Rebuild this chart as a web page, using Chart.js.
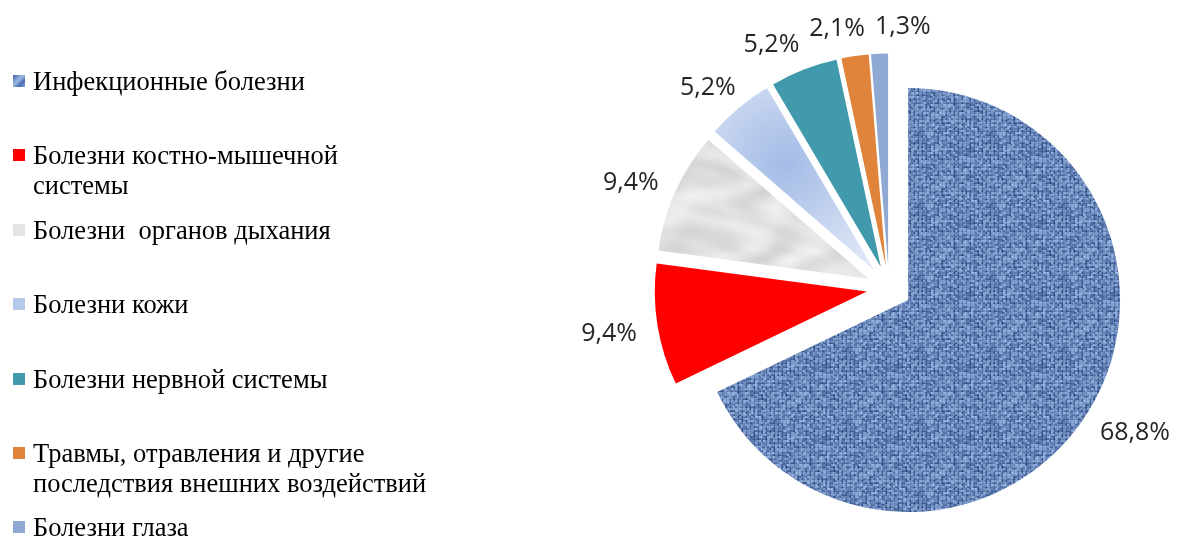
<!DOCTYPE html>
<html lang="ru">
<head>
<meta charset="utf-8">
<title>Структура заболеваемости</title>
<script src="https://cdn.jsdelivr.net/npm/chart.js@4.4.1/dist/chart.umd.min.js"></script>
<style>
    html, body { margin: 0; padding: 0; background: #fff; }
    #wrap { position: relative; width: 1183px; height: 538px; overflow: hidden; }
    #pie { position: absolute; left: 0; top: 0; }
    #legend {
        position: absolute; left: 0; top: 0; width: 560px; height: 538px;
        font-family: 'Times New Roman', 'Liberation Serif', serif;
        font-size: 26.5px; color: #000;
    }
    .item { position: absolute; left: 13px; line-height: 30px; white-space: pre; }
    .box { position: absolute; left: 0; top: 9px; width: 12px; height: 12px; }
    .text { margin-left: 20px; }
</style>
</head>
<body>
<div id="wrap">
    <canvas id="pie"></canvas>
    <div id="legend"></div>
</div>
<script>
'use strict';

var categories = [
    'Инфекционные болезни',
    ['Болезни костно-мышечной', 'системы'],
    'Болезни  органов дыхания',
    'Болезни кожи',
    'Болезни нервной системы',
    ['Травмы, отравления и другие', 'последствия внешних воздействий'],
    'Болезни глаза',
];

var shares = [68.8, 9.4, 9.4, 5.2, 5.2, 2.1, 1.3];

var sliceColors = ['#5b7fba', '#ff0000', '#d9d9d9', '#bccbea', '#4199ac', '#e0843b', '#8fa9d3'];
var swatchColors = [
    'linear-gradient(135deg, #3f63a3, #9bb8e6 45%, #4a6eaf 70%, #86a6dc)',
    '#ff0000', '#e4e4e4', '#b6c8ea', '#4199ac', '#e0843b', '#8fa9d3',
];

var RADIUS = 212;
var EXPLODE = 22.5;
var LABEL_GAP = 21;
var LABEL_HALF_H = 10;
var LABEL_DROP = 4;
var LABEL_MIN_GAP = 10;
var LABEL_FONT = '25px "Open Sans", "Liberation Sans", sans-serif';

var canvas = document.getElementById('pie');
var ctx2d = canvas.getContext('2d');

function hash(x, y) {
    var h = Math.sin(x * 127.1 + y * 311.7) * 43758.5453;
    return h - Math.floor(h);
}

// woven blue cloth used for the biggest slice
function makeDenim() {
    var size = 72;
    var c = document.createElement('canvas');
    c.width = c.height = size;
    var g = c.getContext('2d');
    var img = g.createImageData(size, size);
    var dark = [34, 64, 122];
    var light = [178, 206, 248];
    for (var y = 0; y < size; y++) {
        for (var x = 0; x < size; x++) {
            var cx = Math.floor(x / 2);
            var cy = Math.floor(y / 2);
            var t = 0.3 + 0.55 * hash(cx, cy) + 0.15 * (hash(x + 31, y + 7) - 0.5);
            if (x % 4 === 3) t -= 0.18;
            if (y % 4 === 3) t -= 0.12;
            t = Math.max(0, Math.min(1, t));
            var k = (y * size + x) * 4;
            img.data[k] = dark[0] + (light[0] - dark[0]) * t;
            img.data[k + 1] = dark[1] + (light[1] - dark[1]) * t;
            img.data[k + 2] = dark[2] + (light[2] - dark[2]) * t;
            img.data[k + 3] = 255;
        }
    }
    g.putImageData(img, 0, 0);
    return ctx2d.createPattern(c, 'repeat');
}

// soft grey marble for the respiratory slice
function makeMarble() {
    var size = 200;
    var c = document.createElement('canvas');
    c.width = c.height = size;
    var g = c.getContext('2d');
    var img = g.createImageData(size, size);
    var a = 2 * Math.PI / size;
    for (var y = 0; y < size; y++) {
        for (var x = 0; x < size; x++) {
            var v = Math.sin(x * a * 2 + Math.sin(y * a * 3) * 2.6 + Math.sin(x * a) * 1.5) +
                0.6 * Math.sin(y * a * 3 + Math.sin(x * a * 2) * 2.1) +
                0.3 * Math.sin((x - 2 * y) * a * 4 + Math.sin(y * a * 5)) +
                (hash(x, y) - 0.5) * 0.25;
            var gray = Math.max(185, Math.min(247, 226 + v * 8));
            var k = (y * size + x) * 4;
            img.data[k] = gray;
            img.data[k + 1] = gray;
            img.data[k + 2] = gray + 1;
            img.data[k + 3] = 255;
        }
    }
    g.putImageData(img, 0, 0);
    return ctx2d.createPattern(c, 'repeat');
}

var denim = makeDenim();
var marble = makeMarble();

function midAngle(index) {
    var total = shares.reduce(function (a, b) { return a + b; }, 0);
    var before = shares.slice(0, index).reduce(function (a, b) { return a + b; }, 0);
    return -Math.PI / 2 + 2 * Math.PI * (before + shares[index] / 2) / total;
}

function sliceFill(context) {
    var i = context.dataIndex;
    if (i === 0) return denim;
    if (i === 2) return marble;
    if (i === 3) {
        var area = context.chart.chartArea;
        if (!area) return sliceColors[i];
        var cx = (area.left + area.right) / 2;
        var cy = (area.top + area.bottom) / 2;
        var m = midAngle(i);
        var gx = cx + Math.cos(m) * RADIUS * 0.66;
        var gy = cy + Math.sin(m) * RADIUS * 0.66;
        var grad = context.chart.ctx.createRadialGradient(gx, gy, 0, gx, gy, RADIUS * 0.6);
        grad.addColorStop(0, '#a3bbe6');
        grad.addColorStop(1, '#e1e8f6');
        return grad;
    }
    return sliceColors[i];
}

function formatShare(v) {
    return v.toFixed(1).replace('.', ',') + '%';
}

// pulls every slice away from the centre along its bisector, like Excel's point explosion
var explodePlugin = {
    id: 'explode',
    beforeDatasetsDraw: function (chart) {
        chart.getDatasetMeta(0).data.forEach(function (arc) {
            if (arc._exploded) return;
            arc._exploded = true;
            var baseDraw = arc.draw;
            arc.draw = function (ctx, area) {
                var mid = (this.startAngle + this.endAngle) / 2;
                ctx.save();
                ctx.translate(Math.cos(mid) * EXPLODE, Math.sin(mid) * EXPLODE);
                baseDraw.call(this, ctx, area);
                ctx.restore();
            };
        });
    },
};

var dataLabels = {
    id: 'dataLabels',
    afterDatasetsDraw: function (chart) {
        var ctx = chart.ctx;
        var meta = chart.getDatasetMeta(0);
        ctx.save();
        ctx.font = LABEL_FONT;
        var boxes = meta.data.map(function (arc, i) {
            var mid = (arc.startAngle + arc.endAngle) / 2;
            var cos = Math.cos(mid);
            var sin = Math.sin(mid);
            var dist = EXPLODE + arc.outerRadius + LABEL_GAP;
            var text = formatShare(shares[i]);
            var w = ctx.measureText(text).width;
            return {
                text: text,
                w: w,
                x: arc.x + cos * dist + cos * w / 2,
                y: arc.y + sin * dist + sin * LABEL_HALF_H + LABEL_DROP,
            };
        });
        // push apart neighbouring labels that would collide
        for (var pass = 0; pass < 40; pass++) {
            for (var i = 0; i < boxes.length - 1; i++) {
                var a = boxes[i];
                var b = boxes[i + 1];
                if (Math.abs(a.y - b.y) > 2 * LABEL_HALF_H + 4) continue;
                var overlap = (a.w + b.w) / 2 + LABEL_MIN_GAP - Math.abs(b.x - a.x);
                if (overlap > 0) {
                    var s = b.x >= a.x ? 1 : -1;
                    a.x -= s * overlap / 2;
                    b.x += s * overlap / 2;
                }
            }
        }
        ctx.fillStyle = '#262626';
        ctx.textAlign = 'center';
        ctx.textBaseline = 'middle';
        boxes.forEach(function (b) {
            ctx.fillText(b.text, b.x, b.y);
        });
        ctx.restore();
    },
};

function buildLegend() {
    var legend = document.getElementById('legend');
    var firstTop = 66;
    var pitch = 74.4;
    categories.forEach(function (label, i) {
        var lines = Array.isArray(label) ? label : [label];
        var item = document.createElement('div');
        item.className = 'item';
        item.style.top = (firstTop + i * pitch) + 'px';
        var box = document.createElement('span');
        box.className = 'box';
        box.style.background = swatchColors[i];
        var text = document.createElement('div');
        text.className = 'text';
        text.textContent = lines.join('\n');
        item.appendChild(box);
        item.appendChild(text);
        legend.appendChild(item);
    });
}

var pieChart = new Chart(canvas, {
    type: 'pie',
    data: {
        labels: categories,
        datasets: [
            {
                data: shares,
                backgroundColor: sliceFill,
                borderWidth: 0,
            },
        ],
    },
    options: {
        responsive: true,
        maintainAspectRatio: false,
        animation: false,
        radius: RADIUS,
        layout: {
            padding: { left: 595, top: 38, right: 0, bottom: 0 },
        },
        plugins: {
            legend: { display: false },
            tooltip: { enabled: false },
        },
    },
    plugins: [explodePlugin, dataLabels],
});

buildLegend();
</script>
</body>
</html>
